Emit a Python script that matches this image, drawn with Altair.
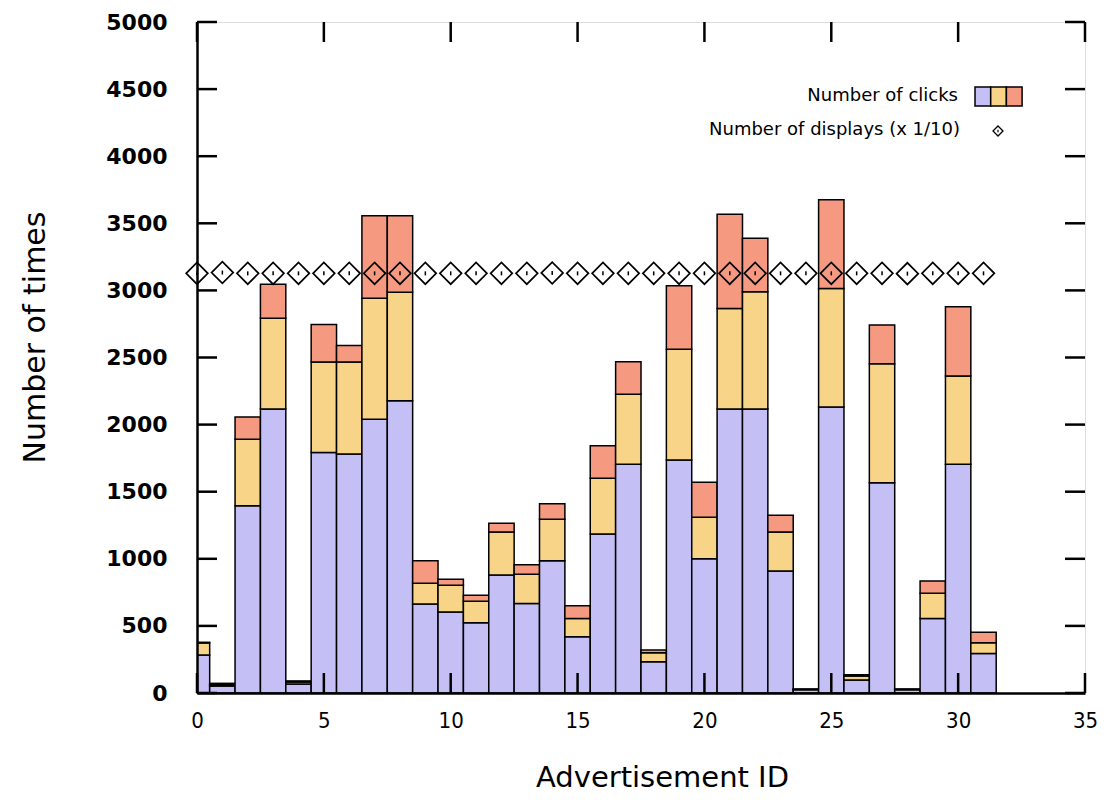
import altair as alt
import pandas as pd

# ---- data ----
ad_ids = list(range(32))
clicks_blue = [283, 52, 1396, 2116, 67, 1793, 1781, 2039, 2178, 663, 604, 524, 879, 666, 986, 420,
               1185, 1704, 233, 1736, 1001, 2116, 2116, 909, 25, 2131, 97, 1567, 25, 556, 1704, 295]
clicks_yellow = [90, 12, 494, 676, 15, 674, 686, 902, 808, 154, 198, 159, 321, 218, 308, 136,
                 415, 522, 67, 825, 308, 750, 874, 291, 3, 884, 30, 887, 3, 187, 658, 80]
clicks_red = [5, 8, 167, 253, 8, 278, 123, 616, 571, 169, 45, 45, 64, 72, 117, 95,
              243, 243, 20, 474, 261, 701, 398, 124, 2, 661, 9, 288, 2, 92, 517, 77]
displays = [31270, 31330, 31270, 31270, 31270, 31270, 31270, 31270, 31270, 31270, 31270, 31270,
            31270, 31270, 31300, 31270, 31270, 31270, 31270, 31270, 31270, 31270, 31270, 31270,
            31270, 31270, 31270, 31270, 31250, 31270, 31270, 31270]
series_names = ["clicks A", "clicks B", "clicks C"]
series_colors = ["#c4bff5", "#f7d488", "#f59a80"]
x_ticks = [0, 5, 10, 15, 20, 25, 30, 35]
y_ticks = [0, 500, 1000, 1500, 2000, 2500, 3000, 3500, 4000, 4500, 5000]

W, H = 888, 671
TL = 20

rows = []
for i in ad_ids:
    for order, (name, vals) in enumerate(zip(series_names, [clicks_blue, clicks_yellow, clicks_red])):
        rows.append({"id": i, "series": name, "clicks": vals[i], "order": order})
df = pd.DataFrame(rows)
df_disp = pd.DataFrame({"id": ad_ids, "displays": displays})

xscale = alt.Scale(domain=[0, 35], nice=False, zero=False)
yscale = alt.Scale(domain=[0, 5000], nice=False)

xaxis = alt.Axis(values=x_ticks, ticks=False, tickSize=0, grid=False, domain=True,
                 domainColor="black", domainWidth=2.5, zindex=1, format="d", labelFlush=False,
                 labelFont="DejaVu Sans Condensed, Liberation Sans Narrow, Liberation Sans, sans-serif",
                 labelFontSize=22, labelColor="black",
                 labelPadding=17, labelBaseline="top",
                 title="Advertisement ID", titleFont="DejaVu Sans", titleFontSize=29,
                 titleFontWeight="normal", titleColor="black",
                 titleX=465, titleY=93, titleBaseline="alphabetic", titleAnchor="start",
                 titleAlign="center")
yaxis = alt.Axis(values=y_ticks, ticks=False, tickSize=0, grid=False, domain=True,
                 domainColor="black", domainWidth=2.5, zindex=1, format="d", labelFlush=False,
                 labelFont="DejaVu Sans", labelFontSize=22, labelFontWeight="bold",
                 labelColor="black", labelPadding=30,
                 title="Number of times", titleFont="DejaVu Sans", titleFontSize=30,
                 titleFontWeight="normal", titleColor="black",
                 titleAngle=270, titleX=-153, titleY=315, titleBaseline="alphabetic",
                 titleAlign="center", titleAnchor="start")

bars = alt.Chart(df).transform_stack(
    stack="clicks", groupby=["id"], sort=[alt.SortField("order")], as_=["y0", "y1"]
).transform_calculate(
    xl="datum.id - 0.5", xr="datum.id + 0.5"
).mark_rect(clip=True, stroke="black", strokeWidth=1.5, opacity=1).encode(
    x=alt.X("xl:Q", scale=xscale, axis=xaxis),
    x2="xr:Q",
    y=alt.Y("y0:Q", scale=yscale, axis=yaxis),
    y2="y1:Q",
    color=alt.Color("series:N", scale=alt.Scale(domain=series_names, range=series_colors), legend=None),
)

pts_base = alt.Chart(df_disp).transform_calculate(disp10="datum.displays / 10")
diamonds = pts_base.mark_point(shape="diamond", size=470, filled=False, stroke="black",
                               strokeWidth=1.7, opacity=1).encode(
    x=alt.X("id:Q", scale=xscale), y=alt.Y("disp10:Q", scale=yscale))
dots = pts_base.mark_point(shape="M0,-1L0,1", size=16, filled=False, stroke="black",
                           strokeWidth=1.5, opacity=1).encode(
    x=alt.X("id:Q", scale=xscale), y=alt.Y("disp10:Q", scale=yscale))

yt = pd.DataFrame({"v": y_ticks})
xt = pd.DataFrame({"v": x_ticks})
tick_l = alt.Chart(yt).mark_rule(color="black", strokeWidth=2.5).encode(
    y=alt.Y("v:Q", scale=yscale), x=alt.value(0), x2=alt.value(TL))
tick_r = alt.Chart(yt).mark_rule(color="black", strokeWidth=2.5).encode(
    y=alt.Y("v:Q", scale=yscale), x=alt.value(W - TL), x2=alt.value(W))
tick_b = alt.Chart(xt).mark_rule(color="black", strokeWidth=2.5).encode(
    x=alt.X("v:Q", scale=xscale), y=alt.value(H - TL), y2=alt.value(H))
tick_t = alt.Chart(xt).mark_rule(color="black", strokeWidth=2.5).encode(
    x=alt.X("v:Q", scale=xscale), y=alt.value(0), y2=alt.value(TL))

# ---- legend (inside, top right) ----
leg_text1 = alt.Chart(pd.DataFrame({"t": ["Number of clicks"]})).mark_text(
    font="DejaVu Sans", fontSize=18, align="right", baseline="middle", color="black").encode(
    text="t:N", x=alt.value(761), y=alt.value(74))
leg_text2 = alt.Chart(pd.DataFrame({"t": ["Number of displays (x 1/10)"]})).mark_text(
    font="DejaVu Sans", fontSize=18, align="right", baseline="middle", color="black").encode(
    text="t:N", x=alt.value(763), y=alt.value(108))
sw = []
for k, c in enumerate(series_colors):
    sw.append(alt.Chart(pd.DataFrame({"s": [series_names[k]]})).mark_rect(
        fill=c, stroke="black", strokeWidth=1.5).encode(
        x=alt.value(778 + k * 15.7), x2=alt.value(778 + (k + 1) * 15.7),
        y=alt.value(65), y2=alt.value(84)))
leg_diamond = alt.Chart(pd.DataFrame({"s": ["d"]})).mark_point(
    shape="diamond", size=100, filled=False, stroke="black", strokeWidth=1.3, opacity=1).encode(
    x=alt.value(801), y=alt.value(109))
leg_dot = alt.Chart(pd.DataFrame({"s": ["d"]})).mark_point(
    shape="M0,-1L0,1", size=6, filled=False, stroke="black", strokeWidth=1.2, opacity=1).encode(
    x=alt.value(801), y=alt.value(109))

chart = alt.layer(
    bars, diamonds, dots, tick_l, tick_r, tick_b, tick_t,
    leg_text1, leg_text2, *sw, leg_diamond, leg_dot
).properties(
    width=W, height=H,
    padding={"left": 189, "top": 14, "right": 22, "bottom": 101},
    autosize=alt.AutoSizeParams(type="none"),
).configure_view(
    stroke="black", strokeWidth=2.5
).configure(background="white")

chart.save("out.html", embed_options={"renderer": "svg", "actions": False})
